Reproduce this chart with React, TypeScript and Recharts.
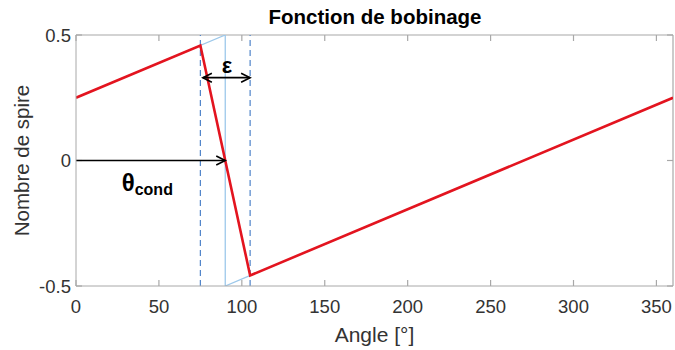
import React from 'react';
import {
  LineChart, Line, XAxis, YAxis, ReferenceLine, ReferenceDot, Label,
} from 'recharts';

// winding function (red) and ideal one (light blue)
const angleReal = [0, 75, 105, 360];
const turnsReal = [0.25, 0.458, -0.458, 0.25];
const angleIdeal = [0, 90, 90, 360];
const turnsIdeal = [0.25, 0.5, -0.5, 0.25];

const xTicks = [0, 50, 100, 150, 200, 250, 300, 350];
const yTicks = [-0.5, 0, 0.5];
const xMax = 360;
const yMax = 0.5;

const epsBounds = [75, 105];
const epsArrowY = 0.33;
const thetaCond = 90;

const realData = angleReal.map((a, i) => ({ angle: a, turns: turnsReal[i] }));
const idealData = angleIdeal.map((a, i) => ({ angle: a, turns: turnsIdeal[i] }));

const FONT = '"Liberation Sans", Arial, sans-serif';
const AXIS = '#a8a8a8';
const TXT = '#333333';
const TICK = 6;

// inward tick stubs at both ends of a full-height / full-width reference line
const stubs = (p: any) => {
  const { x1, y1, x2, y2 } = p;
  const vertical = Math.abs(x1 - x2) < 0.5;
  const top = Math.min(y1, y2), bottom = Math.max(y1, y2);
  const left = Math.min(x1, x2), right = Math.max(x1, x2);
  return vertical ? (
    <g stroke={AXIS} strokeWidth={1.2}>
      <line x1={x1} y1={top} x2={x1} y2={top + TICK} />
      <line x1={x1} y1={bottom} x2={x1} y2={bottom - TICK} />
    </g>
  ) : (
    <g stroke={AXIS} strokeWidth={1.2}>
      <line x1={left} y1={y1} x2={left + TICK} y2={y1} />
      <line x1={right} y1={y1} x2={right - TICK} y2={y1} />
    </g>
  );
};

const arrow = (heads: 'end' | 'both') => (p: any) => {
  const { x1, y1, x2, y2 } = p;
  const h = 9, w = 4.5;
  const head = (x: number, y: number, dir: number) =>
    `M${x - dir * h},${y - w} L${x},${y} L${x - dir * h},${y + w}`;
  const dir = x2 >= x1 ? 1 : -1;
  return (
    <g>
      <line x1={x1} y1={y1} x2={x2} y2={y2} stroke="#000" strokeWidth={1.6} />
      <path d={head(x2, y2, dir)} fill="none" stroke="#000" strokeWidth={1.6} />
      {heads === 'both' && <path d={head(x1, y1, -dir)} fill="none" stroke="#000" strokeWidth={1.6} />}
    </g>
  );
};

const EpsLabel = (p: any) => {
  const { x, y, width, height } = p.viewBox;
  return (
    <text x={x + width / 2} y={y + height / 2} textAnchor="middle" dominantBaseline="central"
      fontFamily={FONT} fontWeight="bold" fontSize={22} fill="#000">ε</text>
  );
};

const ThetaLabel = (p: any) => {
  const { x, y, width, height } = p.viewBox;
  return (
    <text x={x + width / 2} y={y + height / 2} textAnchor="middle" dominantBaseline="central"
      fontFamily={FONT} fontWeight="bold" fill="#000">
      <tspan fontSize={24}>θ</tspan>
      <tspan fontSize={16} dy={7}>cond</tspan>
    </text>
  );
};

export default function App() {
  return (
    <div style={{ position: 'absolute', left: 0, top: 0, width: 675, height: 350, background: '#fff' }}>
      <div style={{
        position: 'absolute', left: 0, width: 750, top: 5, textAlign: 'center',
        fontFamily: FONT, fontWeight: 'bold', fontSize: 20.5, color: '#000',
      }}>
        Fonction de bobinage
      </div>
      <LineChart width={675} height={350} margin={{ top: 35, right: 2, bottom: 0, left: 0 }}>
        <XAxis dataKey="angle" type="number" domain={[0, xMax]} ticks={xTicks}
          allowDataOverflow height={64} stroke={AXIS} tickLine={false} tickSize={0} tickMargin={14}
          tick={{ fill: TXT, fontSize: 18.5, fontFamily: FONT }}>
          <Label value="Angle [°]" position="insideBottom" offset={8}
            style={{ fill: TXT, fontSize: 21, fontFamily: FONT }} />
        </XAxis>
        <YAxis type="number" domain={[-yMax, yMax]} ticks={yTicks} width={76}
          allowDataOverflow stroke={AXIS} tickLine={false} tickSize={0} tickMargin={5}
          tick={{ fill: TXT, fontSize: 18.5, fontFamily: FONT }}>
          <Label value="Nombre de spire" angle={-90} position="insideLeft" offset={22}
            style={{ fill: TXT, fontSize: 20.5, fontFamily: FONT, textAnchor: 'middle' }} />
        </YAxis>

        {/* box: top and right borders, inward ticks */}
        <ReferenceLine y={yMax} stroke={AXIS} strokeWidth={1.2} />
        <ReferenceLine x={xMax} stroke={AXIS} strokeWidth={1.2} />
        {xTicks.map((t) => <ReferenceLine key={`x${t}`} x={t} shape={stubs} />)}
        {yTicks.map((t) => <ReferenceLine key={`y${t}`} y={t} shape={stubs} />)}

        <Line data={idealData} dataKey="turns" type="linear"
          stroke="#9dc8ea" strokeWidth={1.3} dot={false} isAnimationActive={false} />
        {epsBounds.map((b) => (
          <ReferenceLine key={b} x={b} stroke="#4f84c9" strokeWidth={1.2} strokeDasharray="6 4" />
        ))}
        <Line data={realData} dataKey="turns" type="linear"
          stroke="#e3141f" strokeWidth={2.6} dot={false} isAnimationActive={false} />

        <ReferenceLine segment={[{ x: 0, y: 0 }, { x: thetaCond, y: 0 }]} shape={arrow('end')} />
        <ReferenceLine
          segment={[{ x: epsBounds[0] + 1.5, y: epsArrowY }, { x: epsBounds[1], y: epsArrowY }]}
          shape={arrow('both')} />
        <ReferenceDot x={91} y={0.38} r={0} stroke="none" fill="none">
          <Label content={EpsLabel} />
        </ReferenceDot>
        <ReferenceDot x={43} y={-0.085} r={0} stroke="none" fill="none">
          <Label content={ThetaLabel} />
        </ReferenceDot>
      </LineChart>
    </div>
  );
}
